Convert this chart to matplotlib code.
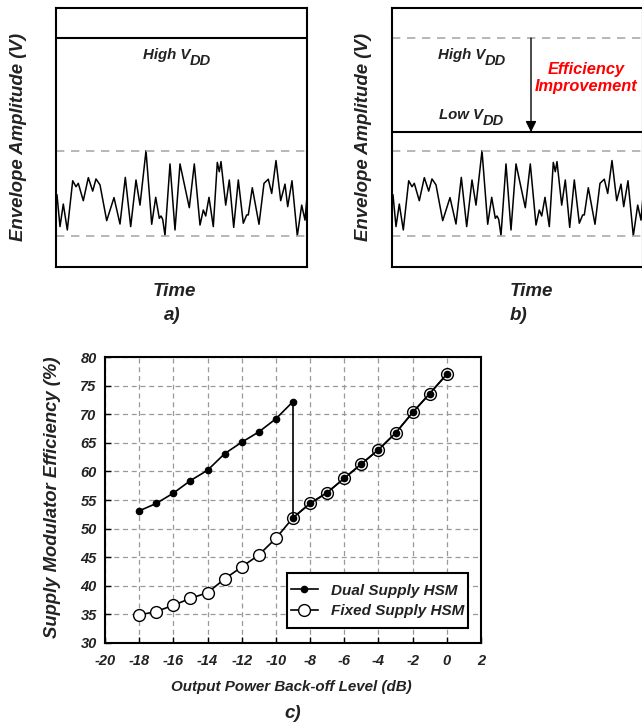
import matplotlib
matplotlib.use("Agg")
import matplotlib.pyplot as plt
from matplotlib.patches import Rectangle

plt.rcParams["font.family"] = ["Liberation Sans", "DejaVu Sans"]
plt.rcParams["font.weight"] = "bold"
plt.rcParams["font.style"] = "italic"
plt.rcParams["axes.unicode_minus"] = False

TEXT = "#222222"

# envelope trace (time in px-ish units, level 0..1 of the box)
env_time = [1, 4, 7.3, 11.3, 16.7, 20, 22.3, 27.3, 32.3, 36.7, 40, 44, 50.7, 58, 64,
            69.3, 74.7, 80, 84, 90, 95.7, 99.7, 103.3, 105, 106.7, 109, 114, 119,
            124, 133.3, 138.3, 144, 147.3, 149.7, 153, 157.3, 161.3, 163.3, 165,
            169.7, 173.3, 177.7, 182.3, 187.3, 190.7, 192.3, 196.3, 203, 208, 212.3,
            215.7, 220, 224.7, 229, 231.7, 236, 241.3, 245.7, 249, 251]
env_level = [0.278, 0.156, 0.243, 0.143, 0.333, 0.310, 0.323, 0.256, 0.345, 0.293,
             0.340, 0.317, 0.179, 0.268, 0.166, 0.346, 0.156, 0.336, 0.239, 0.449,
             0.165, 0.269, 0.188, 0.197, 0.184, 0.122, 0.398, 0.143, 0.398, 0.229,
             0.398, 0.162, 0.220, 0.197, 0.269, 0.156, 0.404, 0.368, 0.407, 0.239,
             0.336, 0.153, 0.336, 0.169, 0.201, 0.201, 0.306, 0.165, 0.323, 0.339,
             0.284, 0.411, 0.256, 0.320, 0.233, 0.333, 0.120, 0.239, 0.181, 0.272]
env_top = 0.448
env_bottom = 0.120
high_vdd = 0.884
low_vdd = 0.521

# efficiency vs back-off
backoff_dual = [-18, -17, -16, -15, -14, -13, -12, -11, -10, -9, -9,
                -8, -7, -6, -5, -4, -3, -2, -1, 0]
eff_dual = [53.1, 54.4, 56.2, 58.4, 60.2, 63.1, 65.1, 66.9, 69.2, 72.2, 51.9,
            54.4, 56.3, 58.8, 61.3, 63.8, 66.7, 70.3, 73.6, 77.0]
backoff_fixed = [-18, -17, -16, -15, -14, -13, -12, -11, -10, -9,
                 -8, -7, -6, -5, -4, -3, -2, -1, 0]
eff_fixed = [34.9, 35.5, 36.6, 37.8, 38.8, 41.2, 43.3, 45.4, 48.3, 51.9,
             54.4, 56.3, 58.8, 61.3, 63.8, 66.7, 70.3, 73.6, 77.0]
x_ticks = [-20, -18, -16, -14, -12, -10, -8, -6, -4, -2, 0, 2]
y_ticks = [30, 35, 40, 45, 50, 55, 60, 65, 70, 75, 80]

W, H = 642, 725
fig = plt.figure(figsize=(W / 100, H / 100), dpi=100)


def px(x, y):
    return x / W, 1 - y / H


def vdd_label(ax, x, y, word):
    # "High V" + lowered "DD", subscript nearly full size like the original
    t = ax.text(x, y, word + " V", ha="left", va="baseline", fontsize=10.8, color=TEXT)
    ax.annotate("DD", xy=(1, 0), xycoords=t, xytext=(-0.5, -2.5),
                textcoords="offset points", ha="left", va="baseline",
                fontsize=10.5, color=TEXT)


def envelope_panel(left):
    ax = fig.add_axes([left / W, 1 - 267 / H, 251 / W, 259 / H])
    ax.set_xlim(0, 251)
    ax.set_ylim(0, 1)
    ax.set_xticks([])
    ax.set_yticks([])
    for s in ax.spines.values():
        s.set_linewidth(1.5)
    ax.plot(env_time, env_level, color="black", lw=1.1, solid_joinstyle="round")
    for lv in (env_top, env_bottom):
        ax.axhline(lv, color="#aaaaaa", lw=1.2, dashes=(5, 4))
    return ax


# a)
ax_a = envelope_panel(56)
ax_a.axhline(high_vdd, color="black", lw=1.5)
vdd_label(ax_a, 87, 0.805, "High")
fig.text(*px(19, 137), "Envelope Amplitude (V)", rotation=90, ha="center", va="center",
         fontsize=13.4, color=TEXT)
fig.text(*px(174, 292), "Time", ha="center", va="center", fontsize=13.5, color=TEXT)
fig.text(*px(172, 316), "a)", ha="center", va="center", fontsize=13.5, color=TEXT)

# b)
ax_b = envelope_panel(392)
ax_b.axhline(high_vdd, color="#aaaaaa", lw=1.2, dashes=(5, 4))
ax_b.axhline(low_vdd, color="black", lw=1.5)
vdd_label(ax_b, 46, 0.805, "High")
vdd_label(ax_b, 47, 0.573, "Low")
ax_b.annotate("", xy=(139, low_vdd), xytext=(139, high_vdd),
              arrowprops=dict(arrowstyle="-|>", color="black", lw=1.0,
                              mutation_scale=16, shrinkA=0, shrinkB=0))
ax_b.text(194, 0.73, "Efficiency\nImprovement", ha="center", va="center",
          fontsize=11.8, color="red", linespacing=1.1)
fig.text(*px(363, 137), "Envelope Amplitude (V)", rotation=90, ha="center", va="center",
         fontsize=13.4, color=TEXT)
fig.text(*px(531, 292), "Time", ha="center", va="center", fontsize=13.5, color=TEXT)
fig.text(*px(519, 316), "b)", ha="center", va="center", fontsize=13.5, color=TEXT)

# c)
ax = fig.add_axes([105 / W, 1 - 643 / H, 376 / W, 286 / H])
ax.plot(backoff_fixed, eff_fixed, "-o", color="black", lw=1.2, ms=8.5,
        mfc="white", mec="black", mew=1.0, label="Fixed Supply HSM", zorder=3)
ax.plot(backoff_dual, eff_dual, "-o", color="black", lw=1.2, ms=4.5,
        mfc="black", mec="black", label="Dual Supply HSM", zorder=4)
ax.set_xlim(-20, 2)
ax.set_ylim(30, 80)
ax.set_xticks(x_ticks)
ax.set_yticks(y_ticks)
ax.grid(True, color="#999999", lw=0.9, dashes=(4, 3))
ax.tick_params(direction="in", length=4, width=1, labelsize=10.5, labelcolor=TEXT)
ax.tick_params(axis="x", pad=8)
ax.tick_params(axis="y", pad=6)
for s in ax.spines.values():
    s.set_linewidth(1.5)

# legend: box drawn separately, the original has wide vertical but tight side padding
handles, labels = ax.get_legend_handles_labels()
leg = ax.legend(handles[::-1], labels[::-1], loc="center",
                bbox_to_anchor=(0.725, 0.147), fontsize=11, frameon=False,
                borderpad=0.3, labelspacing=0.45, handlelength=1.8,
                handletextpad=0.85, labelcolor=TEXT)
leg.set_zorder(6)
ax.add_patch(Rectangle((0.484, 0.052), 0.481, 0.193, transform=ax.transAxes,
                       facecolor="white", edgecolor="black", lw=1.5, zorder=5))

fig.text(*px(53, 497), "Supply Modulator Efficiency (%)", rotation=90, ha="center",
         va="center", fontsize=13.3, color=TEXT)
fig.text(*px(291, 687), "Output Power Back-off Level (dB)", ha="center", va="center",
         fontsize=10.9, color=TEXT)
fig.text(*px(293, 713), "c)", ha="center", va="center", fontsize=13.5, color=TEXT)

fig.savefig("out.png", dpi=100)
